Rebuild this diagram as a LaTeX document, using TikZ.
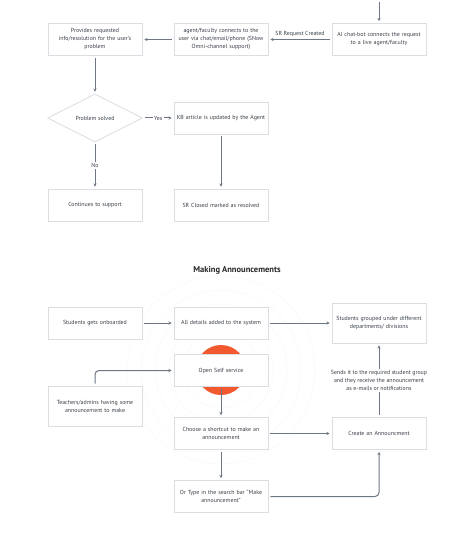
\documentclass[tikz,border=0pt]{standalone}
\usepackage{fontspec}
\setmainfont{PT Sans}
\usepackage{tikz}
\usetikzlibrary{shapes.geometric, arrows.meta, positioning, calc}
\definecolor{boxline}{HTML}{DADDE2}
\definecolor{arrowc}{HTML}{6E7783}
\definecolor{txt}{HTML}{3A4048}
\definecolor{dot}{HTML}{F2592F}

\begin{document}
\begin{tikzpicture}[x=1pt,y=-1pt]
\tikzset{
  bx/.style={rectangle,draw=boxline,line width=0.8pt,fill=white,minimum width=94pt,minimum height=32pt,text width=91pt,align=center,inner sep=1.5pt,font=\fontsize{5.9}{8}\selectfont,text=txt},
  dm/.style={diamond,draw=boxline,line width=0.8pt,fill=white,minimum width=95pt,minimum height=48pt,inner sep=1pt,font=\fontsize{5.9}{8}\selectfont,text=txt},
  ar/.style={-{Stealth[length=3.2pt,width=3.2pt]},line width=1pt,draw=arrowc,shorten <=2pt,shorten >=2pt},
  lb/.style={font=\fontsize{5.9}{8}\selectfont,text=txt,fill=white,inner sep=1.5pt,align=center}
}
\fill[white] (0,0) rectangle (474,537);
\useasboundingbox (0,0) rectangle (474,537);
% faint rings behind the announcement flow
\foreach \r in {38,52,66,80,94}{\draw[black!2.5,line width=0.5pt] (221,370) circle (\r);}

% support request flow
\coordinate (top) at (379,0);
\node[bx] (ai) at (379,39.5) {AI chat-bot connects the request\\to a live agent/faculty};
\node[bx] (agent) at (221,39.5) {agent/faculty connects to the\\user via chat/email/phone (SNow\\Omni-channel support)};
\node[bx] (prov) at (95,39.5) {Provides requested\\info/resolution for the user's\\problem};
\node[dm] (solved) at (95,118) {Problem solved};
\node[bx] (kb) at (221,118) {KB article is updated by the Agent};
\node[bx] (cont) at (95,205) {Continues to support};
\node[bx] (closed) at (221,205) {SR Closed marked as resolved};

\draw[ar] (top) -- (ai);
\draw[ar] (ai) -- node[lb,above=1pt] {SR Request Created} (agent);
\draw[ar] (agent) -- (prov);
\draw[ar] (prov) -- (solved);
\draw[ar] (solved) -- node[lb] {Yes} (kb);
\draw[ar] (solved) -- node[lb] {No} (cont);
\draw[ar] (kb) -- (closed);

% announcements
\node[font=\bfseries\fontsize{8.5}{10}\selectfont,text=black!85] (title) at (237,270) {Making Announcements};
\node[bx] (onb) at (95,323) {Students gets onboarded};
\node[bx] (det) at (221,323) {All details added to the system};
\node[bx,minimum height=40pt] (grp) at (379,323) {Students grouped under different\\departments/ divisions};
\fill[dot] (221,370) circle (25);
\node[bx] (self) at (221,370.5) {Open Self service};
\node[bx,minimum height=40pt] (teach) at (95,406) {Teachers/admins having some\\announcement to make};
\node[bx] (short) at (221,433.5) {Choose a shortcut to make an\\announcement};
\node[bx] (create) at (379,433.5) {Create an Announcment};
\node[bx] (type) at (221,496.5) {Or Type in the search bar ``Make\\announcement''};

\foreach \a/\b in {onb/det,det/grp,self/short,short/create,short/type}{\draw[ar] (\a)--(\b);}
\draw[ar,rounded corners=4pt] (teach.north) |- (self.west);
\draw[ar,rounded corners=4pt] (type.east) -| (create.south);
\draw[ar] (create) -- node[lb] {Sends it to the required student group\\and they receive the announcement\\as e-mails or notifications} (grp);
\end{tikzpicture}
\end{document}
